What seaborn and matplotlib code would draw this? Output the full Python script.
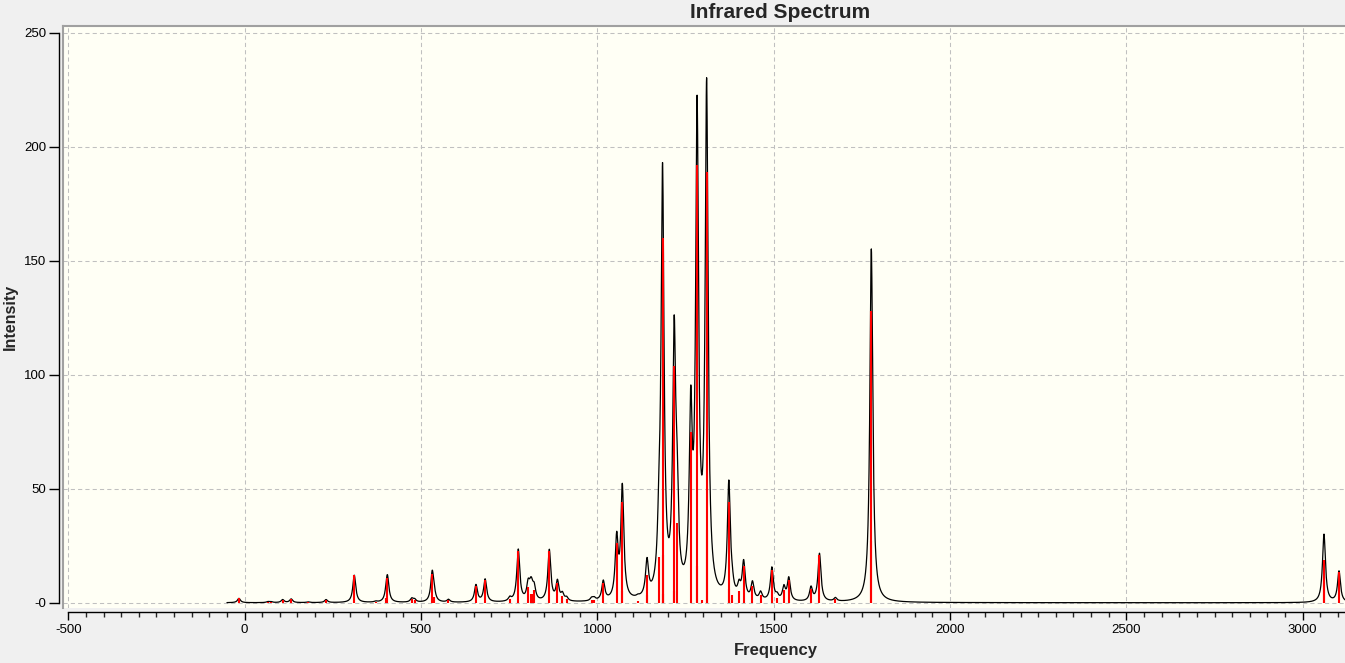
import numpy as np
import pandas as pd
import matplotlib
matplotlib.use("Agg")
import matplotlib.pyplot as plt
import seaborn as sns

# ---- data (frequency cm-1, intensity) ----
stick_freq = [-16, 66, 75, 108, 132, 180, 231, 311, 372, 402, 405, 474, 482,
              532, 537, 578, 656, 682, 752, 776, 804, 811, 814, 821, 864, 887,
              901, 913, 984, 991, 1017, 1055, 1071, 1071, 1115, 1141, 1141,
              1175, 1185, 1185, 1187, 1218, 1218, 1226, 1265, 1283, 1283,
              1297, 1310, 1310, 1373, 1373, 1382, 1402, 1415, 1440, 1463, 1495,
              1510, 1529, 1543, 1606, 1630, 1675, 1777, 1777, 3060, 3061, 3103]
stick_int = [1.9, 0.4, 0.4, 1.3, 1.6, 0.3, 1.3, 12.0, 0.4, 2.0, 10.7, 1.6, 1.2,
             12.8, 2.6, 1.2, 7.5, 10.0, 1.6, 22.8, 7.0, 4.0, 4.0, 5.5, 22.5, 8.5,
             3.0, 1.5, 1.2, 1.2, 8.5, 26.0, 44.0, 5.0, 0.6, 12.0, 3.5,
             20.0, 160.0, 21.0, 4.0, 104.0, 5.0, 35.0, 75.0, 192.0, 16.0,
             1.0, 189.0, 32.0, 44.0, 6.0, 3.5, 5.0, 16.0, 7.5, 3.4, 14.5,
             2.0, 5.8, 10.0, 6.0, 21.0, 1.5, 128.0, 27.0, 18.7, 11.5, 13.6]
hwhm = 5.0  # Lorentzian half width used by the spectrum program

x_ticks = [-500, 0, 500, 1000, 1500, 2000, 2500, 3000]
y_ticks = [0, 50, 100, 150, 200, 250]
y_tick_labels = ["-0", "50", "100", "150", "200", "250"]

# broadened spectrum computed from the sticks
f = np.arange(-50, 3130, 0.5)
sf = np.array(stick_freq, float)
si = np.array(stick_int, float)
curve = (si[None, :] / (1 + ((f[:, None] - sf[None, :]) / hwhm) ** 2)).sum(axis=1)
df = pd.DataFrame({"Frequency": f, "Intensity": curve})

sns.set_style("white")
plt.rcParams["font.family"] = ["Liberation Sans", "DejaVu Sans"]

W, H = 1345, 663
fig = plt.figure(figsize=(W / 100, H / 100), dpi=100)
fig.patch.set_facecolor("#F0F0F0")

left_px, right_px, top_px, bot_px = 62.7, 1345, 26, 608
pos = [left_px / W, (H - bot_px) / H, (right_px - left_px) / W, (bot_px - top_px) / H]
xlim = (-515.7, 3120)
ylim = (-2.3, 252.9)

ax = fig.add_axes(pos)
ax.set_facecolor("#FFFFF5")
ax.set_xlim(*xlim)
ax.set_ylim(*ylim)
for s in ["bottom", "right"]:
    ax.spines[s].set_visible(False)
for s in ["left", "top"]:
    ax.spines[s].set_color("#A0A0A0")
    ax.spines[s].set_linewidth(1.5)
ax.set_xticks(x_ticks)
ax.set_yticks(y_ticks)
ax.tick_params(length=0, labelleft=False, labelbottom=False)
ax.grid(True, color="#C0C0C0", linestyle=(0, (4, 3)), linewidth=0.75)
ax.set_axisbelow(True)

sns.lineplot(data=df, x="Frequency", y="Intensity", ax=ax, color="black",
             linewidth=0.9, estimator=None, sort=False, zorder=2)
ax.vlines(stick_freq, 0, stick_int, color="#FF0000", linewidth=1.5, zorder=3)
ax.set_xlabel("")
ax.set_ylabel("")
ax.set_xlim(*xlim)
ax.set_ylim(*ylim)

# axis lines with ticks (GaussView style)
ax2 = fig.add_axes(pos, facecolor="none")
ax2.set_xlim(*xlim)
ax2.set_ylim(*ylim)
for s in ["top", "right"]:
    ax2.spines[s].set_visible(False)
ax2.spines["left"].set_position(("outward", 2.45))
ax2.spines["bottom"].set_position(("outward", 2.66))
ax2.spines["left"].set_bounds(0, 250)
ax2.spines["bottom"].set_bounds(-500, xlim[1])
for s in ["left", "bottom"]:
    ax2.spines[s].set_color("black")
    ax2.spines[s].set_linewidth(1.0)
ax2.set_yticks(y_ticks)
ax2.set_yticklabels(y_tick_labels)
ax2.set_xticks(x_ticks)
ax2.set_xticklabels([str(t) for t in x_ticks])
ax2.set_xticks(np.arange(-500, 3101, 50), minor=True)
ax2.tick_params(axis="y", direction="out", length=7.2, width=1, pad=2.2,
                labelsize=9.5, colors="black", left=True)
ax2.tick_params(axis="x", which="major", direction="out", length=5.8, width=1,
                pad=3, labelsize=9.5, colors="black", bottom=True)
ax2.tick_params(axis="x", which="minor", direction="out", length=3.6, width=1,
                bottom=True)

fig.text(780 / W, (H - 17.5) / H, "Infrared Spectrum", ha="center",
         va="baseline", fontsize=15, fontweight="bold")
fig.text(776 / W, (H - 655) / H, "Frequency", ha="center", va="baseline",
         fontsize=12, fontweight="bold")
fig.text(10 / W, (H - 317) / H, "Intensity", ha="center", va="center",
         rotation=90, fontsize=11.5, fontweight="bold")

fig.savefig("out.png", dpi=100, facecolor=fig.get_facecolor())
